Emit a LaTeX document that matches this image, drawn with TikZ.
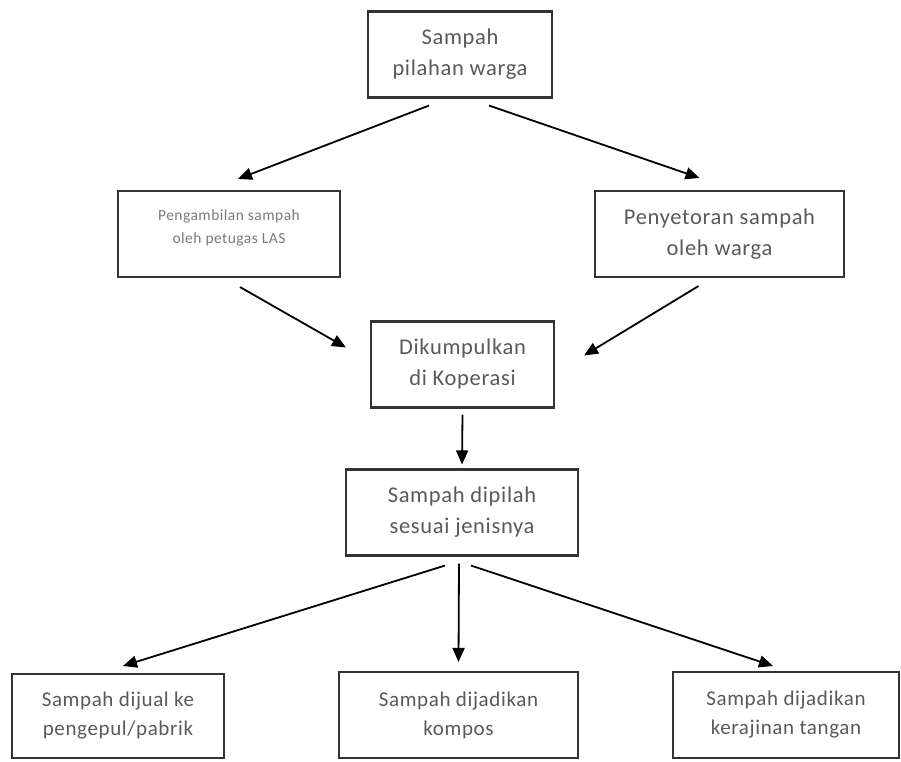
\documentclass[tikz,border=0pt]{standalone}
\usepackage{fontspec}
\setmainfont{Carlito}[LetterSpace=3]
\usetikzlibrary{arrows.meta,positioning}
\definecolor{boxline}{HTML}{333333}
\definecolor{boxtext}{HTML}{595959}
\definecolor{smalltext}{HTML}{7A7A7A}
\begin{document}
\begin{tikzpicture}[x=1pt,y=1pt,node distance=148pt]
        \tikzstyle{process} = [rectangle, minimum height=86pt, text centered, align=center, inner sep=0pt, draw=boxline, line width=2.1pt, text=boxtext, font=\fontsize{22.5}{31}\selectfont]
        \tikzstyle{result} = [process, font=\fontsize{21}{29}\selectfont]
        \tikzstyle{arrow} = [line width=1.8pt, -{Triangle[length=14pt,width=12pt]}]

        \useasboundingbox (0,0) rectangle (901,761);

        \node (pilahan) [process, minimum width=184pt] at (460,706.5) {Sampah\\pilahan warga};
        \node (ambil) [process, minimum width=222pt, below of=pilahan, xshift=-231pt, yshift=-31.5pt, text=smalltext, font=\fontsize{15.5}{23}\selectfont] {Pengambilan sampah\\oleh petugas LAS\rule[-15pt]{0pt}{15pt}};
        \node (setor) [process, minimum width=249pt, right of=ambil, xshift=342.5pt] {Penyetoran sampah\\oleh warga};
        \node (kumpul) [process, minimum width=183pt, below of=pilahan, xshift=2.5pt, yshift=-162pt] {Dikumpulkan\\di Koperasi};
        \node (pilah) [process, minimum width=232pt, below of=kumpul, xshift=-0.5pt] {Sampah dipilah\\sesuai jenisnya};
        \node (kompos) [result, minimum width=239pt, below of=pilah, xshift=-3.5pt, yshift=-54.5pt] {Sampah dijadikan\\kompos};
        \node (jual) [result, minimum width=212pt, minimum height=84pt, left of=kompos, xshift=-192.5pt, yshift=-1pt] {Sampah dijual ke\\pengepul/pabrik};
        \node (kerajinan) [result, minimum width=226pt, right of=kompos, xshift=179.5pt] {Sampah dijadikan\\kerajinan tangan};

        \draw [arrow] ([xshift=-31pt,yshift=-7pt]pilahan.south) -- ([xshift=9pt,yshift=11pt]ambil.north);
        \draw [arrow] ([xshift=29pt,yshift=-7pt]pilahan.south) -- ([xshift=-20pt,yshift=12pt]setor.north);
        \draw [arrow] ([xshift=11pt,yshift=-9pt]ambil.south) -- ([xshift=-24pt,yshift=17pt]kumpul.west);
        \draw [arrow] ([xshift=-21pt,yshift=-8pt]setor.south) -- ([xshift=29pt,yshift=9pt]kumpul.east);
        \draw [arrow] ([yshift=-6pt]kumpul.south) -- ([yshift=4pt]pilah.north);
        \draw [arrow] ([xshift=-17pt,yshift=-9pt]pilah.south) -- ([xshift=5pt,yshift=7pt]jual.north);
        \draw [arrow] ([xshift=-3pt,yshift=-7pt]pilah.south) -- ([yshift=9pt]kompos.north);
        \draw [arrow] ([xshift=9pt,yshift=-9pt]pilah.south) -- ([xshift=-13pt,yshift=5pt]kerajinan.north);
    \end{tikzpicture}
\end{document}
